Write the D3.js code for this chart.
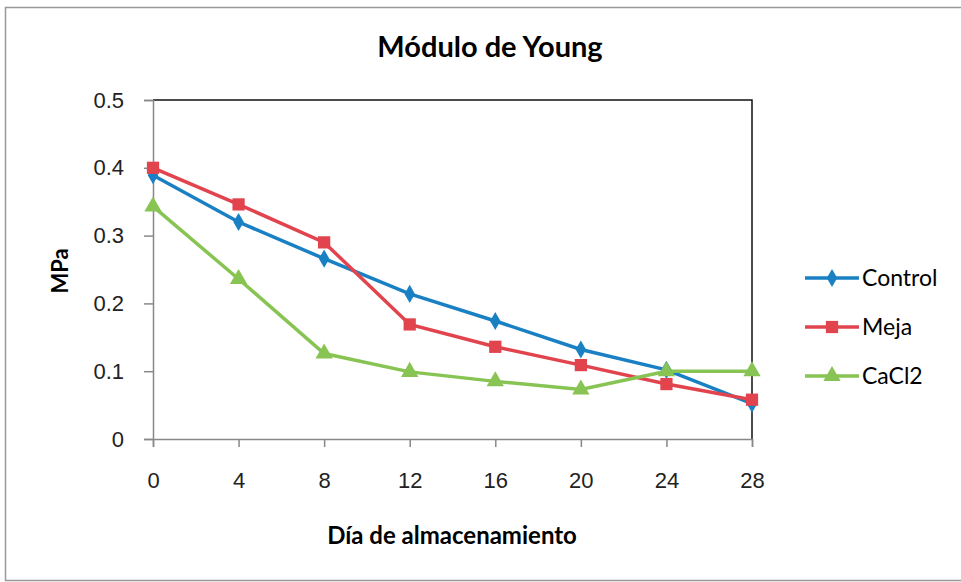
<!DOCTYPE html>
<meta charset="utf-8">
<script src="https://d3js.org/d3.v7.min.js"></script>
<style>
body { margin: 0; background: #fff; }
svg { font-family: Lato, "Open Sans", sans-serif; }
.axis text { font-size: 22px; fill: #222; }
.axis path, .axis line { stroke: #888; stroke-width: 1.5px; }
</style>
<body></body>
<script>
// data
var days = [0, 4, 8, 12, 16, 20, 24, 28];
var control = [0.389, 0.320, 0.266, 0.214, 0.174, 0.132, 0.102, 0.052];
var meja    = [0.400, 0.346, 0.290, 0.169, 0.136, 0.109, 0.081, 0.058];
var cacl2   = [0.343, 0.236, 0.126, 0.099, 0.085, 0.073, 0.100, 0.100];
var seriesNames = ['Control', 'Meja', 'CaCl2'];
var yTicks = [0, 0.1, 0.2, 0.3, 0.4, 0.5];

var colors = ['#1a80c4', '#e2444e', '#88c453'];
var shapes = [d3.symbolDiamond, d3.symbolSquare, d3.symbolTriangle];
var shapeSize = [95, 150, 130];

var width = 961, height = 582;
var margin = {top: 100, right: 209, bottom: 143, left: 153};
var w = width - margin.left - margin.right,
    h = height - margin.top - margin.bottom;

var svg = d3.select('body').append('svg')
    .attr('width', width)
    .attr('height', height);

// outer frame
svg.append('rect')
  .attr('x', 5.5).attr('y', 7.5)
  .attr('width', width).attr('height', height - 9)
  .attr('fill', 'none').attr('stroke', '#999').attr('stroke-width', 1.5);

var g = svg.append('g')
    .attr('transform', 'translate(' + margin.left + ',' + margin.top + ')');

var x = d3.scaleLinear().domain([0, 28]).range([0, w]);
var y = d3.scaleLinear().domain([0, 0.5]).range([h, 0]);

// top/right border of plot area
g.append('path')
  .attr('d', 'M0,0H' + w + 'V' + h)
  .attr('fill', 'none').attr('stroke', '#111').attr('stroke-width', 1.5);

g.append('g')
  .attr('class', 'axis')
  .attr('transform', 'translate(0,' + h + ')')
  .call(d3.axisBottom(x).tickValues(days).tickSizeOuter(0).tickSize(8).tickPadding(25));

g.append('g')
  .attr('class', 'axis')
  .call(d3.axisLeft(y).tickValues(yTicks).tickFormat(d3.format('')).tickSizeOuter(0).tickSize(9).tickPadding(20));

var allSeries = [control, meja, cacl2];
var line = d3.line().x((d, i) => x(days[i])).y(d => y(d));

allSeries.forEach(function(vals, k) {
  g.append('path')
    .datum(vals)
    .attr('d', line)
    .attr('fill', 'none')
    .attr('stroke', colors[k])
    .attr('stroke-width', 3.5);
});

allSeries.forEach(function(vals, k) {
  g.selectAll('.m' + k)
    .data(vals).enter().append('path')
    .attr('class', 'm' + k)
    .attr('transform', (d, i) => 'translate(' + x(days[i]) + ',' + y(d) + ')')
    .attr('d', d3.symbol().type(shapes[k]).size(shapeSize[k]))
    .attr('fill', colors[k]);
});

// title
svg.append('text')
  .attr('x', 490).attr('y', 57)
  .attr('text-anchor', 'middle')
  .style('font-size', '29px').style('font-weight', 'bold')
  .text('Módulo de Young');

// axis labels
svg.append('text')
  .attr('x', 452).attr('y', 544)
  .attr('text-anchor', 'middle')
  .style('font-size', '24px').style('font-weight', 'bold')
  .text('Día de almacenamiento');

svg.append('text')
  .attr('transform', 'translate(68,271) rotate(-90)')
  .attr('text-anchor', 'middle')
  .style('font-size', '22px').style('font-weight', 'bold')
  .text('MPa');

// legend
var legend = svg.selectAll('.legend')
  .data(seriesNames).enter().append('g')
  .attr('class', 'legend')
  .attr('transform', (d, i) => 'translate(805,' + (278 + i * 49) + ')');

legend.append('line')
  .attr('x1', 0).attr('x2', 54)
  .attr('stroke', (d, i) => colors[i])
  .attr('stroke-width', 3.5);

legend.append('path')
  .attr('transform', 'translate(27,0)')
  .attr('d', (d, i) => d3.symbol().type(shapes[i]).size(shapeSize[i])())
  .attr('fill', (d, i) => colors[i]);

legend.append('text')
  .attr('x', 57).attr('y', 8)
  .style('font-size', '23px')
  .text(d => d);
</script>
